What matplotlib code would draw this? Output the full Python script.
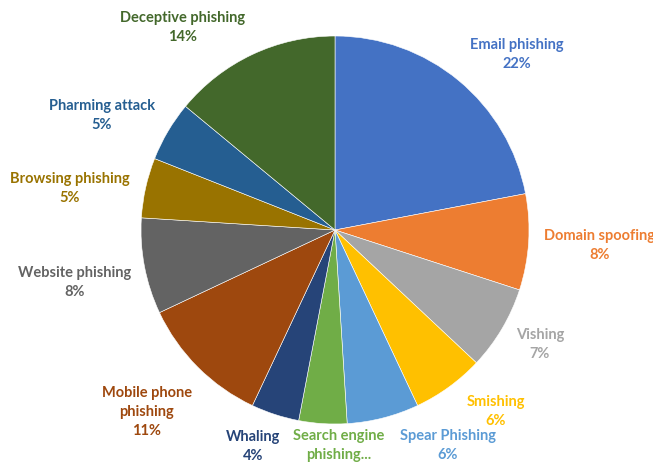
import matplotlib
matplotlib.use("Agg")
import matplotlib.pyplot as plt

# Data (clockwise from 12 o'clock)
categories = ["Email phishing", "Domain spoofing", "Vishing", "Smishing",
              "Spear Phishing", "Search engine\nphishing...", "Whaling",
              "Mobile phone\nphishing", "Website phishing", "Browsing phishing",
              "Pharming attack", "Deceptive phishing"]
shares = [22, 8, 7, 6, 6, 4, 4, 11, 8, 5, 5, 14]
# the reference cuts the percent of this label off at the bottom edge
show_pct = [True] * 5 + [False] + [True] * 6
colors = ["#4472C4", "#ED7D31", "#A5A5A5", "#FFC000", "#5B9BD5", "#70AD47",
          "#264478", "#9E480E", "#636363", "#997300", "#255E91", "#43682B"]

# label centres in pixel coords (x, y of first line, from top)
label_pos = [(517, 45), (600, 236), (540, 335), (496, 402), (448, 436),
             (339, 436), (253, 437), (147, 393), (75, 273), (70, 179),
             (102, 106), (183, 18)]
line_step = 19

W, H = 653, 466
fig = plt.figure(figsize=(W / 100, H / 100), dpi=100)
ax = fig.add_axes([0, 0, 1, 1])

ax.pie(shares, colors=colors, startangle=90, counterclock=False,
       center=(335, H - 230), radius=194, frame=True,
       wedgeprops=dict(edgecolor="white", linewidth=0.4))
ax.set_xlim(0, W)
ax.set_ylim(0, H)
ax.set_aspect("equal")
ax.axis("off")

for name, v, c, (x, y), sp in zip(categories, shares, colors, label_pos, show_pct):
    lines = name.split("\n")
    if sp:
        lines.append(f"{v}%")
    for i, ln in enumerate(lines):
        ax.text(x, H - (y + i * line_step), ln, color=c, ha="center",
                va="center", fontsize=10.5, fontweight="bold", family="Lato")

fig.savefig("out.png", dpi=100)
